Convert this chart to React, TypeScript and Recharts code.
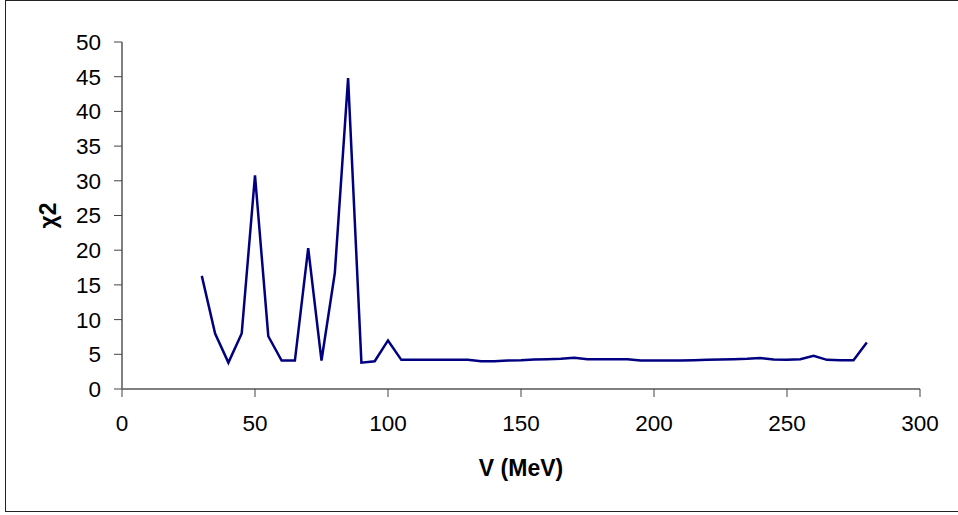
/**
 * Chi-square scan vs. potential depth V — single line chart with Recharts.
 */

import { LineChart, Line, XAxis, YAxis, Label } from "recharts";

const energies = [
  30, 35, 40, 45, 50, 55, 60, 65, 70, 75, 80, 85, 90, 95, 100, 105, 110, 115,
  120, 125, 130, 135, 140, 145, 150, 155, 160, 165, 170, 175, 180, 185, 190,
  195, 200, 205, 210, 215, 220, 225, 230, 235, 240, 245, 250, 255, 260, 265,
  270, 275, 280,
];

const chiSquared = [
  16.3, 8.0, 3.8, 8.0, 30.8, 7.6, 4.1, 4.1, 20.3, 4.1, 16.7, 44.8, 3.8, 4.0,
  7.0, 4.2, 4.2, 4.2, 4.2, 4.2, 4.2, 4.0, 4.0, 4.1, 4.15, 4.25, 4.3, 4.35, 4.5,
  4.3, 4.3, 4.3, 4.3, 4.1, 4.1, 4.1, 4.1, 4.15, 4.2, 4.25, 4.3, 4.35, 4.45,
  4.25, 4.2, 4.3, 4.8, 4.2, 4.15, 4.15, 6.7,
];

const xTicks = [0, 50, 100, 150, 200, 250, 300];
const yTicks = [0, 5, 10, 15, 20, 25, 30, 35, 40, 45, 50];

const data = energies.map((v, i) => ({ v, chi2: chiSquared[i] }));

const FONT = '"Liberation Sans", Arial, sans-serif';
const AXIS_GREY = "#808080";

function YTitle({ viewBox }: any) {
  const cx = viewBox.x + 48;
  const cy = viewBox.y + viewBox.height / 2;
  return (
    <text
      x={cx}
      y={cy}
      transform={`rotate(-90 ${cx} ${cy})`}
      textAnchor="middle"
      dominantBaseline="central"
      fontFamily={FONT}
      fontWeight="bold"
      fontSize={23}
      fill="#000"
    >
      χ2
    </text>
  );
}

export default function App() {
  return (
    <div
      style={{
        position: "absolute",
        left: 0,
        top: 0,
        width: 958,
        height: 515,
        overflow: "hidden",
        background: "#fff",
      }}
    >
      {/* plot frame, the right edge runs off the page */}
      <div
        style={{
          position: "absolute",
          left: 5,
          top: 0,
          width: 970,
          height: 512,
          border: "1px solid #222",
          boxSizing: "border-box",
        }}
      />
      <div style={{ position: "absolute", left: 0, top: 0 }}>
        <LineChart
          width={958}
          height={515}
          data={data}
          margin={{ top: 42, right: 38, bottom: 36, left: 0 }}
        >
          <XAxis
            dataKey="v"
            type="number"
            domain={[0, 300]}
            ticks={xTicks}
            interval={0}
            height={90}
            axisLine={{ stroke: AXIS_GREY, strokeWidth: 2 }}
            tickLine={{ stroke: "#444", strokeWidth: 1 }}
            tickSize={8}
            tickMargin={18}
            tick={{ fill: "#000", fontSize: 22.5, fontFamily: FONT }}
          >
            <Label
              value="V (MeV)"
              position="insideBottom"
              offset={3}
              style={{
                fontFamily: FONT,
                fontWeight: "bold",
                fontSize: 23,
                fill: "#000",
              }}
            />
          </XAxis>
          <YAxis
            type="number"
            domain={[0, 50]}
            ticks={yTicks}
            interval={0}
            width={122}
            axisLine={{ stroke: AXIS_GREY, strokeWidth: 2 }}
            tickLine={{ stroke: "#444", strokeWidth: 1 }}
            tickSize={8}
            tickMargin={13}
            tick={{ fill: "#000", fontSize: 22.5, fontFamily: FONT }}
          >
            <Label content={<YTitle />} />
          </YAxis>
          <Line
            type="linear"
            dataKey="chi2"
            stroke="#000080"
            strokeWidth={2.5}
            dot={false}
            activeDot={false}
            isAnimationActive={false}
          />
        </LineChart>
      </div>
    </div>
  );
}
